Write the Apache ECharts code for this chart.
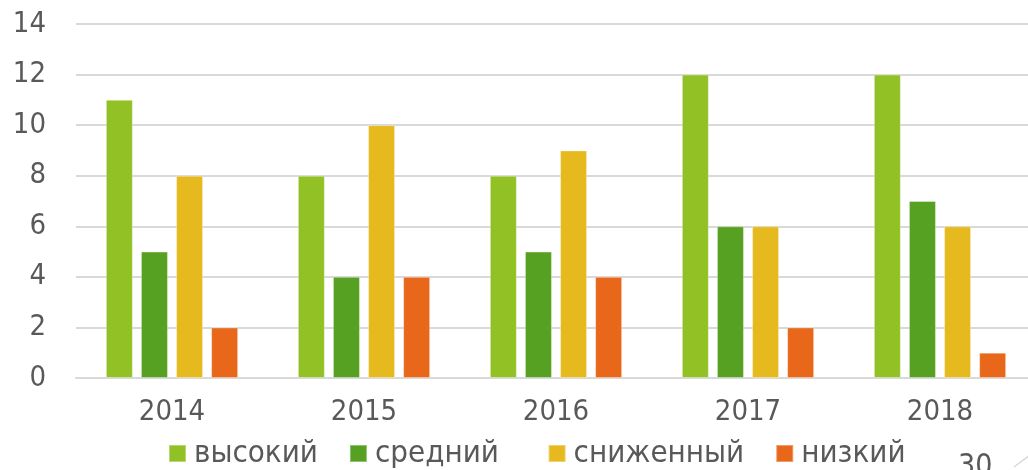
<!DOCTYPE html>
<html>
<head>
<meta charset="utf-8">
<title>Chart</title>
<script src="https://cdn.jsdelivr.net/npm/echarts@6/dist/echarts.min.js"></script>
<style>
    html, body { margin: 0; padding: 0; background: #fff; }
    #main { width: 1028px; height: 470px; }
</style>
</head>
<body>
<div id="main"></div>
<script>
// данные диаграммы
var years = ['2014', '2015', '2016', '2017', '2018'];
var high = [11, 8, 8, 12, 12];
var medium = [5, 4, 5, 6, 7];
var reduced = [8, 10, 9, 6, 6];
var low = [2, 4, 4, 2, 1];
var yTicks = [0, 2, 4, 6, 8, 10, 12, 14];

var font = "'DejaVu Sans Condensed', 'DejaVu Sans', sans-serif";
var textColor = '#595959';

var bar = function(name, data, color){
    return {
        name: name,
        type: 'bar',
        data: data,
        barWidth: 27,
        barGap: '30%',
        itemStyle: {
            color: color,
            borderColor: 'rgba(255,255,255,0.35)',
            borderWidth: 1
        }
    };
};

var chart = echarts.init(document.getElementById('main'));

chart.setOption({
    animation: false,
    // сетка чуть шире окна, как на слайде
    grid: { left: 76, width: 960, top: 24, bottom: 92, outerBoundsMode: 'none' },
    legend: {
        top: 433,
        left: 163,
        itemWidth: 17,
        itemHeight: 17,
        itemGap: 31,
        icon: 'rect',
        textStyle: { color: textColor, fontSize: 31, fontFamily: font, padding: [0, 0, 0, 3] },
        // после «средний» на слайде отступ больше
        formatter: function(name){
            return name === 'средний' ? name + '  ' : name;
        },
        data: ['высокий', 'средний', 'сниженный', 'низкий']
    },
    xAxis: {
        type: 'category',
        data: years,
        axisLine: { lineStyle: { color: '#d9d9d9', width: 2 } },
        axisTick: { show: false },
        axisLabel: { color: textColor, fontSize: 29, fontFamily: font, margin: 20 }
    },
    yAxis: {
        type: 'value',
        min: yTicks[0],
        max: yTicks[yTicks.length - 1],
        interval: 2,
        axisLine: { show: false },
        axisTick: { show: false },
        splitLine: { lineStyle: { color: '#d9d9d9', width: 2 } },
        axisLabel: { color: textColor, fontSize: 29, fontFamily: font, margin: 30 }
    },
    graphic: [
        {
            type: 'text',
            left: 958,
            top: 452,
            style: { text: '30', fill: textColor, font: '30px ' + font }
        },
        {
            type: 'line',
            shape: { x1: 1014, y1: 467, x2: 1030, y2: 455 },
            style: { stroke: '#d9d9d9', lineWidth: 1.5 }
        }
    ],
    series: [
        bar('высокий', high, '#92c125'),
        bar('средний', medium, '#57a122'),
        bar('сниженный', reduced, '#e6b91e'),
        bar('низкий', low, '#e8671a')
    ]
});
</script>
</body>
</html>
